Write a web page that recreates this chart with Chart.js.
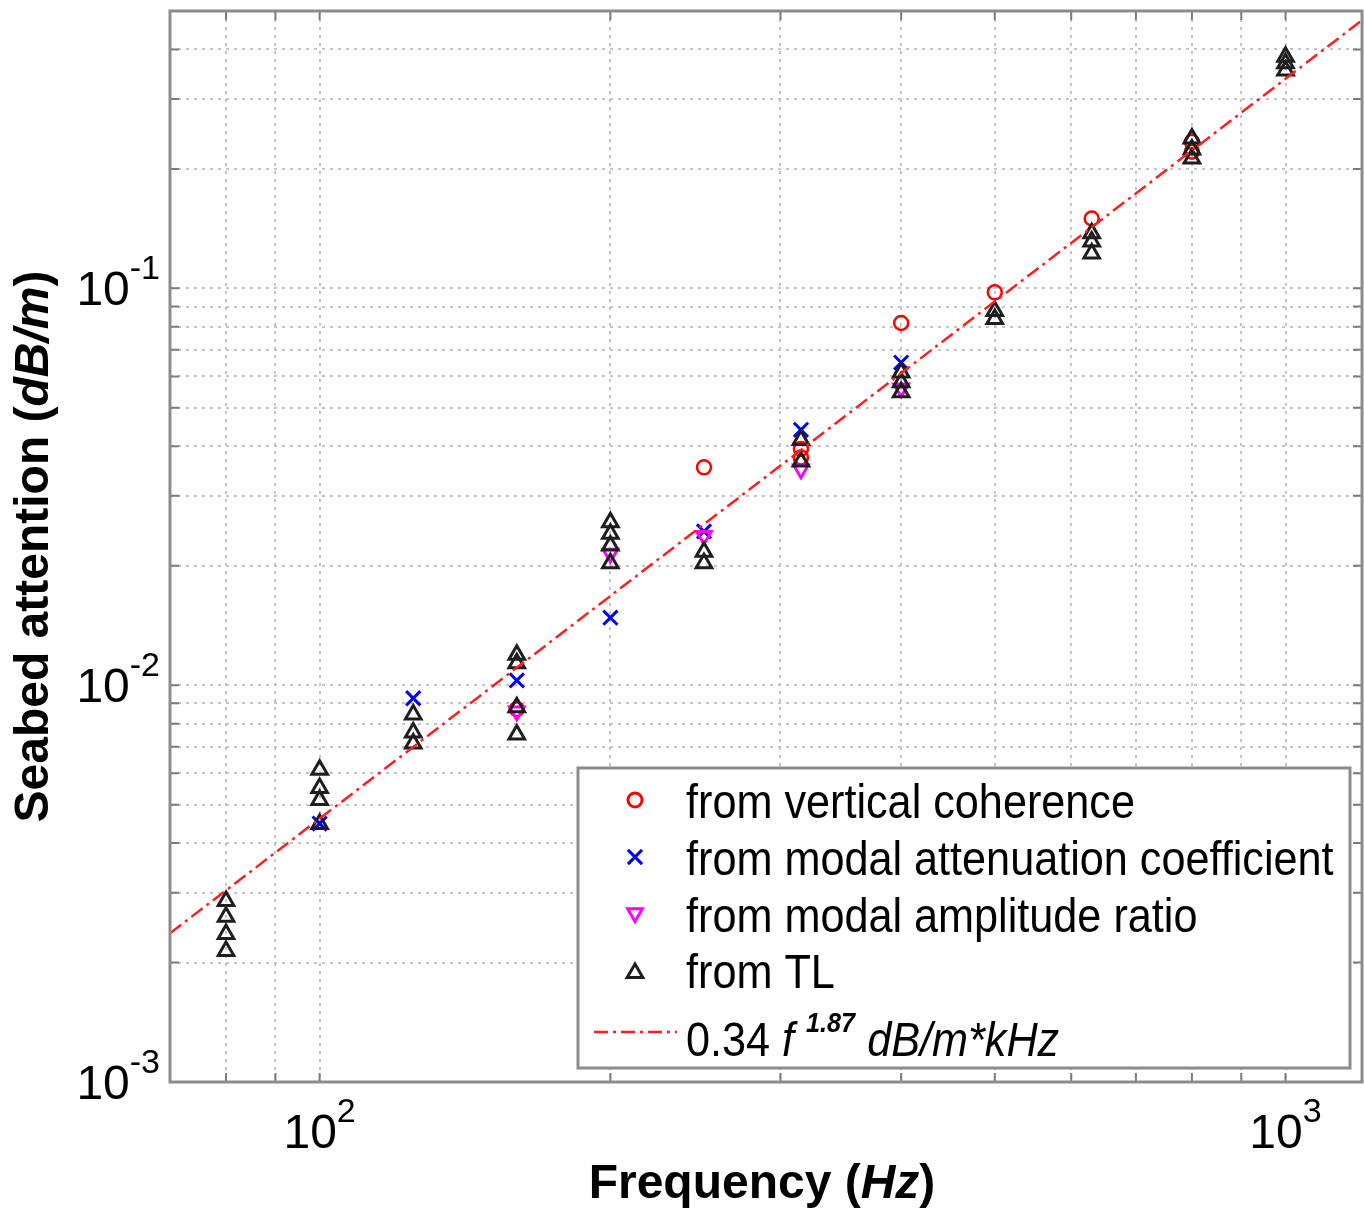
<!DOCTYPE html>
<html>
<head>
<meta charset="utf-8">
<title>Seabed attenuation vs frequency</title>
<script src="https://cdn.jsdelivr.net/npm/chart.js@4.4.1/dist/chart.umd.min.js"></script>
<style>
  html, body { margin: 0; padding: 0; background: #fff; }
  #wrap { width: 1364px; height: 1211px; }
</style>
</head>
<body>
<div id="wrap"><canvas id="seabedChart" width="1364" height="1211"></canvas></div>
<script>
// values (Hz, dB/m)
const coherenceFreq = [160, 250, 315, 315, 400, 500, 630, 800, 800];
const coherenceVal  = [0.0087, 0.0354, 0.0394, 0.0375, 0.0818, 0.0977, 0.150, 0.234, 0.221];

const modalAttFreq = [100, 125, 160, 200, 250, 315, 400];
const modalAttVal  = [0.00448, 0.00927, 0.01028, 0.01479, 0.0244, 0.0440, 0.0650];

const ampRatioFreq = [160, 200, 250, 315, 400];
const ampRatioVal  = [0.00859, 0.02148, 0.0238, 0.0350, 0.0560];

const tlFreq = [80, 80, 80, 80, 100, 100, 100, 100, 125, 125, 125, 160, 160, 160, 160,
                200, 200, 200, 200, 250, 250, 315, 315, 400, 400, 400, 500, 500,
                630, 630, 630, 800, 800, 800, 1000, 1000, 1000];
const tlVal  = [0.00286, 0.00261, 0.00236, 0.00214, 0.00612, 0.00551, 0.00514, 0.00447,
                0.00844, 0.00760, 0.00713, 0.01194, 0.01135, 0.0088, 0.00751,
                0.02575, 0.02408, 0.02249, 0.02028, 0.0217, 0.0203, 0.0415, 0.0366,
                0.0614, 0.0580, 0.0547, 0.0877, 0.0837,
                0.1377, 0.1313, 0.1225, 0.2387, 0.2240, 0.2125, 0.3837, 0.369, 0.354];

// fitted power law, end points read at the plot edges
const fitFreq = [70, 1200];
const fitVal  = [0.00237, 0.474];

// tick labels (10^n)
const xTickValues = [100, 1000];
const xTickExp    = ['2', '3'];
const yTickValues = [0.001, 0.01, 0.1];
const yTickExp    = ['-3', '-2', '-1'];

const FONT = "'Liberation Sans', Arial, Helvetica, sans-serif";

function pts(xs, ys) {
    return xs.map((x, i) => ({ x: x, y: ys[i] }));
}

// drop the 1.5x ticks chart.js adds, keep 1..9 x 10^n
function keepDecadeMultiples(scale) {
    scale.ticks = scale.ticks.filter(t => {
        const m = t.value / Math.pow(10, Math.floor(Math.log10(t.value) + 1e-9));
        return Math.abs(m - Math.round(m)) < 1e-6;
    });
}

function drawParts(ctx, parts, x, y, hScale) {
    // parts: [text, style, size, rise]
    let cx = x;
    parts.forEach(p => {
        ctx.font = `${p[1]} ${p[2]}px ${FONT}`;
        ctx.save();
        ctx.translate(cx, y - (p[3] || 0));
        ctx.scale(hScale, 1);
        ctx.fillText(p[0], 0, 0);
        ctx.restore();
        cx += ctx.measureText(p[0]).width * hScale;
    });
    return cx - x;
}

function partsWidth(ctx, parts, hScale) {
    let w = 0;
    parts.forEach(p => {
        ctx.font = `${p[1]} ${p[2]}px ${FONT}`;
        w += ctx.measureText(p[0]).width * hScale;
    });
    return w;
}

const axesPlugin = {
    id: 'matlabAxes',
    afterDatasetsDraw(chart) {
        const ctx = chart.ctx;
        const a = chart.chartArea;
        const xs = chart.scales.x, ys = chart.scales.y;
        ctx.save();
        ctx.strokeStyle = '#7a7a7a';
        ctx.lineWidth = 2;
        ctx.beginPath();
        xs.ticks.forEach(t => {
            const px = xs.getPixelForValue(t.value);
            ctx.moveTo(px, a.bottom); ctx.lineTo(px, a.bottom - 9);
            ctx.moveTo(px, a.top); ctx.lineTo(px, a.top + 9);
        });
        ys.ticks.forEach(t => {
            const py = ys.getPixelForValue(t.value);
            ctx.moveTo(a.left, py); ctx.lineTo(a.left + 9, py);
            ctx.moveTo(a.right, py); ctx.lineTo(a.right - 9, py);
        });
        ctx.stroke();
        ctx.strokeStyle = '#8c8c8c';
        ctx.lineWidth = 3;
        ctx.strokeRect(a.left, a.top, a.right - a.left, a.bottom - a.top);
        ctx.restore();
    },
    afterDraw(chart) {
        const ctx = chart.ctx;
        const a = chart.chartArea;
        const xs = chart.scales.x, ys = chart.scales.y;
        ctx.save();
        ctx.fillStyle = '#000';
        ctx.textBaseline = 'alphabetic';
        ctx.textAlign = 'left';

        // tick labels
        xTickValues.forEach((v, i) => {
            const parts = [['10', '', 48, 0], [xTickExp[i], '', 34, 26]];
            const w = partsWidth(ctx, parts, 1);
            drawParts(ctx, parts, xs.getPixelForValue(v) - w / 2, a.bottom + 66, 1);
        });
        yTickValues.forEach((v, i) => {
            const parts = [['10', '', 48, 0], [yTickExp[i], '', 34, 26]];
            const w = partsWidth(ctx, parts, 1);
            drawParts(ctx, parts, a.left - 10 - w, ys.getPixelForValue(v) + 17, 1);
        });

        // axis titles
        const xt = [['Frequency (', 'bold', 48], ['Hz', 'italic bold', 48], [')', 'bold', 48]];
        const xw = partsWidth(ctx, xt, 1);
        drawParts(ctx, xt, (a.left + a.right) / 2 - xw / 2 - 4, 1198, 1);

        const yt = [['Seabed attention (', 'bold', 48], ['dB/m', 'italic bold', 48], [')', 'bold', 48]];
        const yw = partsWidth(ctx, yt, 1);
        ctx.save();
        ctx.translate(48, (a.top + a.bottom) / 2);
        ctx.rotate(-Math.PI / 2);
        drawParts(ctx, yt, -yw / 2, 0, 1);
        ctx.restore();

        // legend box
        const bx = 578, by = a.bottom - 314, bw = a.right - 12 - bx, bh = 300;
        ctx.fillStyle = '#fff';
        ctx.fillRect(bx, by, bw, bh);
        ctx.strokeStyle = '#8c8c8c';
        ctx.lineWidth = 3;
        ctx.strokeRect(bx, by, bw, bh);

        const rows = [
            { ds: 0, my: 32, ty: 50, parts: [['from vertical coherence', '', 48]] },
            { ds: 1, my: 89, ty: 107, parts: [['from modal attenuation coefficient', '', 48]] },
            { ds: 2, my: 145, ty: 164, parts: [['from modal amplitude ratio', '', 48]] },
            { ds: 3, my: 205, ty: 220, parts: [['from TL', '', 48]] },
            { ds: 4, my: 264, ty: 288, parts: [['0.34 ', '', 48], ['f ', 'italic', 48],
                ['1.87', 'italic bold', 28, 24], [' dB/m*kHz', 'italic', 48]] }
        ];
        rows.forEach(r => {
            const d = chart.data.datasets[r.ds];
            ctx.save();
            if (d.showLine) {
                ctx.strokeStyle = d.borderColor;
                ctx.lineWidth = d.borderWidth;
                ctx.setLineDash(d.borderDash);
                ctx.beginPath();
                ctx.moveTo(bx + 16, by + r.my);
                ctx.lineTo(bx + 99, by + r.my);
                ctx.stroke();
            } else {
                ctx.strokeStyle = d.borderColor;
                ctx.fillStyle = 'rgba(0,0,0,0)';
                Chart.helpers.drawPoint(ctx, {
                    pointStyle: d.pointStyle,
                    rotation: d.rotation || 0,
                    radius: d.pointRadius,
                    borderWidth: d.borderWidth
                }, bx + 57, by + r.my);
            }
            ctx.restore();
            ctx.fillStyle = '#000';
            drawParts(ctx, r.parts, bx + 108, by + r.ty, 0.9);
        });
        ctx.restore();
    }
};

const config = {
    type: 'scatter',
    data: {
        datasets: [{
            label: 'from vertical coherence',
            data: pts(coherenceFreq, coherenceVal),
            pointStyle: 'circle',
            pointRadius: 7,
            borderColor: '#ff0000',
            backgroundColor: 'rgba(0,0,0,0)',
            borderWidth: 2.5,
            order: 4
        }, {
            label: 'from modal attenuation coefficient',
            data: pts(modalAttFreq, modalAttVal),
            pointStyle: 'crossRot',
            pointRadius: 10,
            borderColor: '#0000ff',
            backgroundColor: 'rgba(0,0,0,0)',
            borderWidth: 3,
            order: 3
        }, {
            label: 'from modal amplitude ratio',
            data: pts(ampRatioFreq, ampRatioVal),
            pointStyle: 'triangle',
            rotation: 180,
            pointRotation: 180,
            pointRadius: 8.5,
            borderColor: '#ff00ff',
            backgroundColor: 'rgba(0,0,0,0)',
            borderWidth: 3,
            order: 2
        }, {
            label: 'from TL',
            data: pts(tlFreq, tlVal),
            pointStyle: 'triangle',
            pointRadius: 9,
            borderColor: '#1e1e1e',
            backgroundColor: 'rgba(0,0,0,0)',
            borderWidth: 3,
            order: 1
        }, {
            label: '0.34 f^1.87 dB/m*kHz',
            data: pts(fitFreq, fitVal),
            showLine: true,
            pointRadius: 0,
            borderColor: '#ff1e1e',
            borderWidth: 2.5,
            borderDash: [14, 5, 3, 5],
            order: 0
        }]
    },
    options: {
        responsive: false,
        animation: false,
        events: [],
        layout: { autoPadding: false, padding: { top: 11, right: 2, left: 0, bottom: 0 } },
        plugins: {
            legend: { display: false },
            tooltip: { enabled: false }
        },
        scales: {
            x: {
                type: 'logarithmic',
                min: 70,
                max: 1200,
                grid: { color: '#c4c4c4', lineWidth: 2, drawTicks: false },
                border: { display: false, dash: [3, 5] },
                ticks: { display: false, autoSkip: false },
                afterBuildTicks: keepDecadeMultiples,
                afterFit: s => { s.height = 129; }
            },
            y: {
                type: 'logarithmic',
                min: 0.001,
                max: 0.5,
                grid: { color: '#c4c4c4', lineWidth: 2, drawTicks: false },
                border: { display: false, dash: [3, 5] },
                ticks: { display: false, autoSkip: false },
                afterBuildTicks: keepDecadeMultiples,
                afterFit: s => { s.width = 170; }
            }
        }
    },
    plugins: [axesPlugin]
};

window.onload = function() {
    Chart.defaults.font.family = FONT;
    const ctx = document.getElementById('seabedChart').getContext('2d');
    new Chart(ctx, config);
};
</script>
</body>
</html>
